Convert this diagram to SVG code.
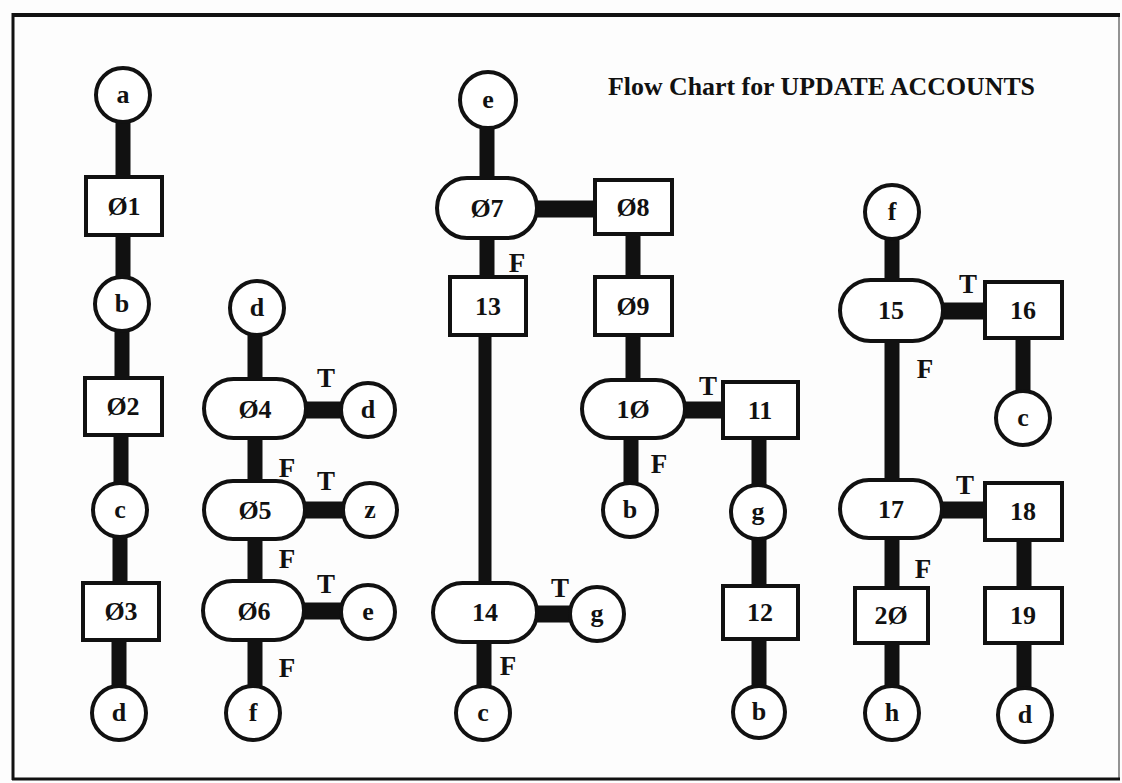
<svg xmlns="http://www.w3.org/2000/svg" width="1122" height="783" viewBox="0 0 1122 783">
<style>
.bg{fill:#fdfdfd}
.frame{stroke:#111;fill:none}
.c{fill:#fff;stroke:#111;stroke-width:4}
.n{fill:#fff;stroke:#111;stroke-width:4}
.v{stroke:#111;stroke-width:15;fill:none}
.h{stroke:#111;stroke-width:17;fill:none}
text{font-family:"Liberation Serif","DejaVu Serif",serif;font-weight:bold;fill:#111}
.lb{font-size:26px;text-anchor:middle}
.tf{font-size:27px;text-anchor:middle}
.title{font-size:26px}
</style>
<rect class="bg" x="0" y="0" width="1122" height="783"/>
<g id="frame">
<line class="frame" x1="12" y1="15" x2="1120" y2="15" stroke-width="4"/>
<line class="frame" x1="13" y1="13" x2="13" y2="780" stroke-width="3"/>
<line class="frame" x1="12" y1="779" x2="1120" y2="779" stroke-width="3"/>
<line class="frame" x1="1119" y1="14" x2="1119" y2="780" stroke-width="1.5" stroke-opacity="0.6"/>
</g>
<text class="title" x="608" y="95" textLength="427" lengthAdjust="spacingAndGlyphs">Flow Chart for UPDATE ACCOUNTS</text>
<g id="connectors">
<line class="v" x1="123" y1="95" x2="123" y2="304"/>
<line class="v" x1="122" y1="304" x2="122" y2="406"/>
<line class="v" x1="121" y1="406" x2="121" y2="510"/>
<line class="v" x1="120" y1="510" x2="120" y2="611"/>
<line class="v" x1="119" y1="611" x2="119" y2="713"/>
<line class="v" x1="255" y1="308" x2="255" y2="713"/>
<line class="h" x1="255" y1="410" x2="368" y2="410"/>
<line class="h" x1="255" y1="510" x2="370" y2="510"/>
<line class="h" x1="255" y1="611" x2="368" y2="611"/>
<line class="v" x1="487" y1="100" x2="487" y2="306"/>
<line class="v" x1="485" y1="306" x2="485" y2="612" style="stroke-width:13"/>
<line class="v" x1="484" y1="612" x2="484" y2="713"/>
<line class="h" x1="487" y1="209" x2="633" y2="209"/>
<line class="v" x1="633" y1="207" x2="633" y2="409"/>
<line class="v" x1="631" y1="409" x2="631" y2="510"/>
<line class="h" x1="633" y1="410" x2="760" y2="410"/>
<line class="h" x1="485" y1="614" x2="597" y2="614"/>
<line class="v" x1="759" y1="410" x2="759" y2="712"/>
<line class="v" x1="892" y1="212" x2="892" y2="713"/>
<line class="h" x1="891" y1="311" x2="1023" y2="311"/>
<line class="v" x1="1023" y1="310" x2="1023" y2="418"/>
<line class="h" x1="891" y1="510" x2="1023" y2="510"/>
<line class="v" x1="1024" y1="511" x2="1024" y2="715"/>
</g>
<g id="edge-labels">
<text class="tf" x="326" y="387">T</text>
<text class="tf" x="287" y="477">F</text>
<text class="tf" x="326" y="490">T</text>
<text class="tf" x="287" y="568">F</text>
<text class="tf" x="326" y="593">T</text>
<text class="tf" x="287" y="677">F</text>
<text class="tf" x="517" y="272">F</text>
<text class="tf" x="708" y="395">T</text>
<text class="tf" x="659" y="473">F</text>
<text class="tf" x="560" y="597">T</text>
<text class="tf" x="508" y="675">F</text>
<text class="tf" x="968" y="293">T</text>
<text class="tf" x="925" y="378">F</text>
<text class="tf" x="965" y="494">T</text>
<text class="tf" x="923" y="578">F</text>
</g>
<g id="n-a"><circle class="c" cx="123" cy="95" r="27"/><text class="lb" x="123" y="103">a</text></g>
<g id="n-01"><rect class="n" x="86" y="177" width="76" height="58"/><text class="lb" x="124" y="215">Ø1</text></g>
<g id="n-b1"><circle class="c" cx="122" cy="304" r="27"/><text class="lb" x="122" y="312">b</text></g>
<g id="n-02"><rect class="n" x="85" y="378" width="77" height="57"/><text class="lb" x="123" y="415">Ø2</text></g>
<g id="n-c1"><circle class="c" cx="120" cy="510" r="27"/><text class="lb" x="120" y="518">c</text></g>
<g id="n-03"><rect class="n" x="83" y="583" width="76" height="57"/><text class="lb" x="121" y="620">Ø3</text></g>
<g id="n-d1"><circle class="c" cx="119" cy="713" r="27"/><text class="lb" x="119" y="721">d</text></g>
<g id="n-d2"><circle class="c" cx="257" cy="308" r="27"/><text class="lb" x="257" y="316">d</text></g>
<g id="n-04"><rect class="n" x="204" y="379" width="102" height="59" rx="29.5"/><text class="lb" x="255" y="418">Ø4</text></g>
<g id="n-d3"><circle class="c" cx="368" cy="410" r="27"/><text class="lb" x="368" y="418">d</text></g>
<g id="n-05"><rect class="n" x="204" y="481" width="101" height="58" rx="29"/><text class="lb" x="255" y="519">Ø5</text></g>
<g id="n-z"><circle class="c" cx="370" cy="510" r="27"/><text class="lb" x="370" y="518">z</text></g>
<g id="n-06"><rect class="n" x="203" y="581" width="101" height="59" rx="29.5"/><text class="lb" x="254" y="620">Ø6</text></g>
<g id="n-e1"><circle class="c" cx="368" cy="612" r="27"/><text class="lb" x="368" y="620">e</text></g>
<g id="n-f1"><circle class="c" cx="253" cy="713" r="27"/><text class="lb" x="253" y="721">f</text></g>
<g id="n-e2"><circle class="c" cx="488" cy="100" r="28"/><text class="lb" x="488" y="108">e</text></g>
<g id="n-07"><rect class="n" x="437" y="178" width="100" height="60" rx="30"/><text class="lb" x="487" y="217">Ø7</text></g>
<g id="n-08"><rect class="n" x="595" y="180" width="77" height="54"/><text class="lb" x="633" y="216">Ø8</text></g>
<g id="n-13"><rect class="n" x="450" y="277" width="76" height="58"/><text class="lb" x="488" y="315">13</text></g>
<g id="n-09"><rect class="n" x="595" y="277" width="77" height="58"/><text class="lb" x="633" y="315">Ø9</text></g>
<g id="n-10"><rect class="n" x="582" y="380" width="103" height="58" rx="29"/><text class="lb" x="633" y="418">1Ø</text></g>
<g id="n-b2"><circle class="c" cx="630" cy="510" r="27"/><text class="lb" x="630" y="518">b</text></g>
<g id="n-14"><rect class="n" x="433" y="583" width="104" height="59" rx="29.5"/><text class="lb" x="485" y="621">14</text></g>
<g id="n-g1"><circle class="c" cx="597" cy="614" r="27"/><text class="lb" x="597" y="622">g</text></g>
<g id="n-c2"><circle class="c" cx="483" cy="713" r="27"/><text class="lb" x="483" y="721">c</text></g>
<g id="n-11"><rect class="n" x="723" y="382" width="75" height="56"/><text class="lb" x="760" y="419">11</text></g>
<g id="n-g2"><circle class="c" cx="758" cy="512" r="27"/><text class="lb" x="758" y="520">g</text></g>
<g id="n-12"><rect class="n" x="723" y="586" width="75" height="53"/><text class="lb" x="760" y="621">12</text></g>
<g id="n-b3"><circle class="c" cx="759" cy="712" r="26"/><text class="lb" x="759" y="720">b</text></g>
<g id="n-f2"><circle class="c" cx="892" cy="212" r="27"/><text class="lb" x="892" y="220">f</text></g>
<g id="n-15"><rect class="n" x="840" y="280" width="103" height="61" rx="30.5"/><text class="lb" x="891" y="319">15</text></g>
<g id="n-16"><rect class="n" x="985" y="282" width="77" height="56"/><text class="lb" x="1023" y="319">16</text></g>
<g id="n-c3"><circle class="c" cx="1023" cy="418" r="27"/><text class="lb" x="1023" y="426">c</text></g>
<g id="n-17"><rect class="n" x="840" y="480" width="102" height="58" rx="29"/><text class="lb" x="891" y="518">17</text></g>
<g id="n-18"><rect class="n" x="985" y="483" width="77" height="57"/><text class="lb" x="1023" y="520">18</text></g>
<g id="n-20"><rect class="n" x="855" y="588" width="73" height="55"/><text class="lb" x="891" y="624">2Ø</text></g>
<g id="n-19"><rect class="n" x="985" y="588" width="77" height="55"/><text class="lb" x="1023" y="624">19</text></g>
<g id="n-h"><circle class="c" cx="892" cy="713" r="27"/><text class="lb" x="892" y="721">h</text></g>
<g id="n-d4"><circle class="c" cx="1025" cy="715" r="27"/><text class="lb" x="1025" y="723">d</text></g>
</svg>
